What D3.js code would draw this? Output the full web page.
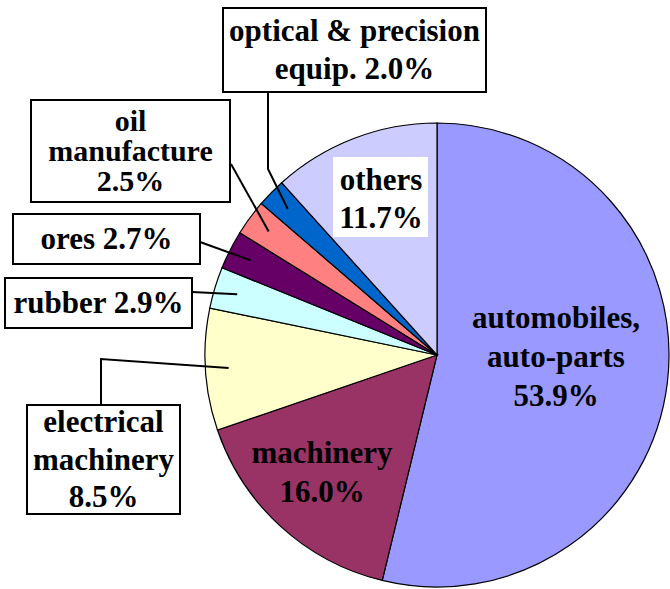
<!DOCTYPE html>
<html><head><meta charset="utf-8">
<script src="https://cdn.jsdelivr.net/npm/d3@7"></script>
</head><body style="margin:0">
<script>
// data, slices clockwise from 12 o'clock
var categories = ["automobiles, auto-parts", "machinery", "electrical machinery", "rubber",
                  "ores", "oil manufacture", "optical & precision equip.", "others"];
var shares = [53.9, 16.0, 8.5, 2.9, 2.7, 2.5, 2.0, 11.7];
var nameLines = [["automobiles,", "auto-parts"], ["machinery"], ["electrical", "machinery"], ["rubber"],
                 ["ores"], ["oil", "manufacture"], ["optical & precision", "equip."], ["others"]];
var colors = ["#9999ff", "#993366", "#ffffcc", "#ccffff", "#660066", "#ff8080", "#0066cc", "#ccccff"];

// label placement (layout only)
var labelLayout = [
  {x: 556, y: 357, lh: 39},
  {x: 322, y: 472, lh: 39},
  {box: [27, 405, 153, 109], lh: 37.5, leader: [[101, 405], [101, 359]]},
  {box: [5, 278, 187, 50], lh: 38, inline: true, leader: [[192, 292]]},
  {box: [13, 214, 187, 50], lh: 38, inline: true, leader: [[200, 242]]},
  {box: [31, 100, 199, 102], lh: 30, fs: 30, leader: [[231, 164]]},
  {box: [223, 8, 263, 84], lh: 38, inline: true, leader: [[268, 92], [268, 169]]},
  {x: 381, y: 199, lh: 38.5, bg: [333, 157, 95, 80]}
];

var cx = 437, cy = 355, radius = 232;
var fontSize = 31;

var svg = d3.select("body").append("svg")
    .attr("width", 670)
    .attr("height", 589)
    .style("font-family", "Times New Roman")
    .style("font-weight", "bold");

var pie = d3.pie().sort(null).value(function(d) { return d; });
var arcs = pie(shares);

var arc = d3.arc().innerRadius(0).outerRadius(radius);
var leaderArc = d3.arc().innerRadius(radius * 0.9).outerRadius(radius * 0.9);

svg.append("g")
    .attr("transform", "translate(" + cx + "," + cy + ")")
    .selectAll("path")
    .data(arcs)
    .enter()
    .append("path")
    .attr("d", arc)
    .attr("fill", function(d, i) { return colors[i]; })
    .attr("stroke", "#000")
    .attr("stroke-width", 1.2);

arcs.forEach(function(d, i) {
  var L = labelLayout[i];
  var fs = L.fs || fontSize;
  var pct = shares[i].toFixed(1) + "%";
  var lines = nameLines[i].slice();
  if (L.inline) lines[lines.length - 1] += " " + pct;
  else lines.push(pct);
  var tx = L.x, ty = L.y;

  if (L.box) {
    // leader from box into the slice
    var c = leaderArc.centroid(d);
    var pts = L.leader.concat([[cx + c[0], cy + c[1]]]);
    svg.append("polyline")
        .attr("points", pts.map(function(p) { return p.join(","); }).join(" "))
        .attr("fill", "none")
        .attr("stroke", "#000")
        .attr("stroke-width", 2);
    svg.append("rect")
        .attr("x", L.box[0]).attr("y", L.box[1])
        .attr("width", L.box[2]).attr("height", L.box[3])
        .attr("fill", "#fff")
        .attr("stroke", "#000")
        .attr("stroke-width", 2);
    tx = L.box[0] + L.box[2] / 2;
    ty = L.box[1] + L.box[3] / 2;
  } else if (L.bg) {
    svg.append("rect")
        .attr("x", L.bg[0]).attr("y", L.bg[1])
        .attr("width", L.bg[2]).attr("height", L.bg[3])
        .attr("fill", "#fff");
  }

  var first = ty - (lines.length - 1) * L.lh / 2 + fs * 0.33;
  lines.forEach(function(s, k) {
    var t = svg.append("text")
        .attr("x", tx)
        .attr("y", first + k * L.lh)
        .attr("font-size", fs)
        .text(s);
    // centre by measured length
    var len = t.node().getComputedTextLength ? t.node().getComputedTextLength() : 0;
    if (len > 0) t.attr("x", tx - len / 2);
    else t.attr("text-anchor", "middle");
  });
});
</script></body></html>
